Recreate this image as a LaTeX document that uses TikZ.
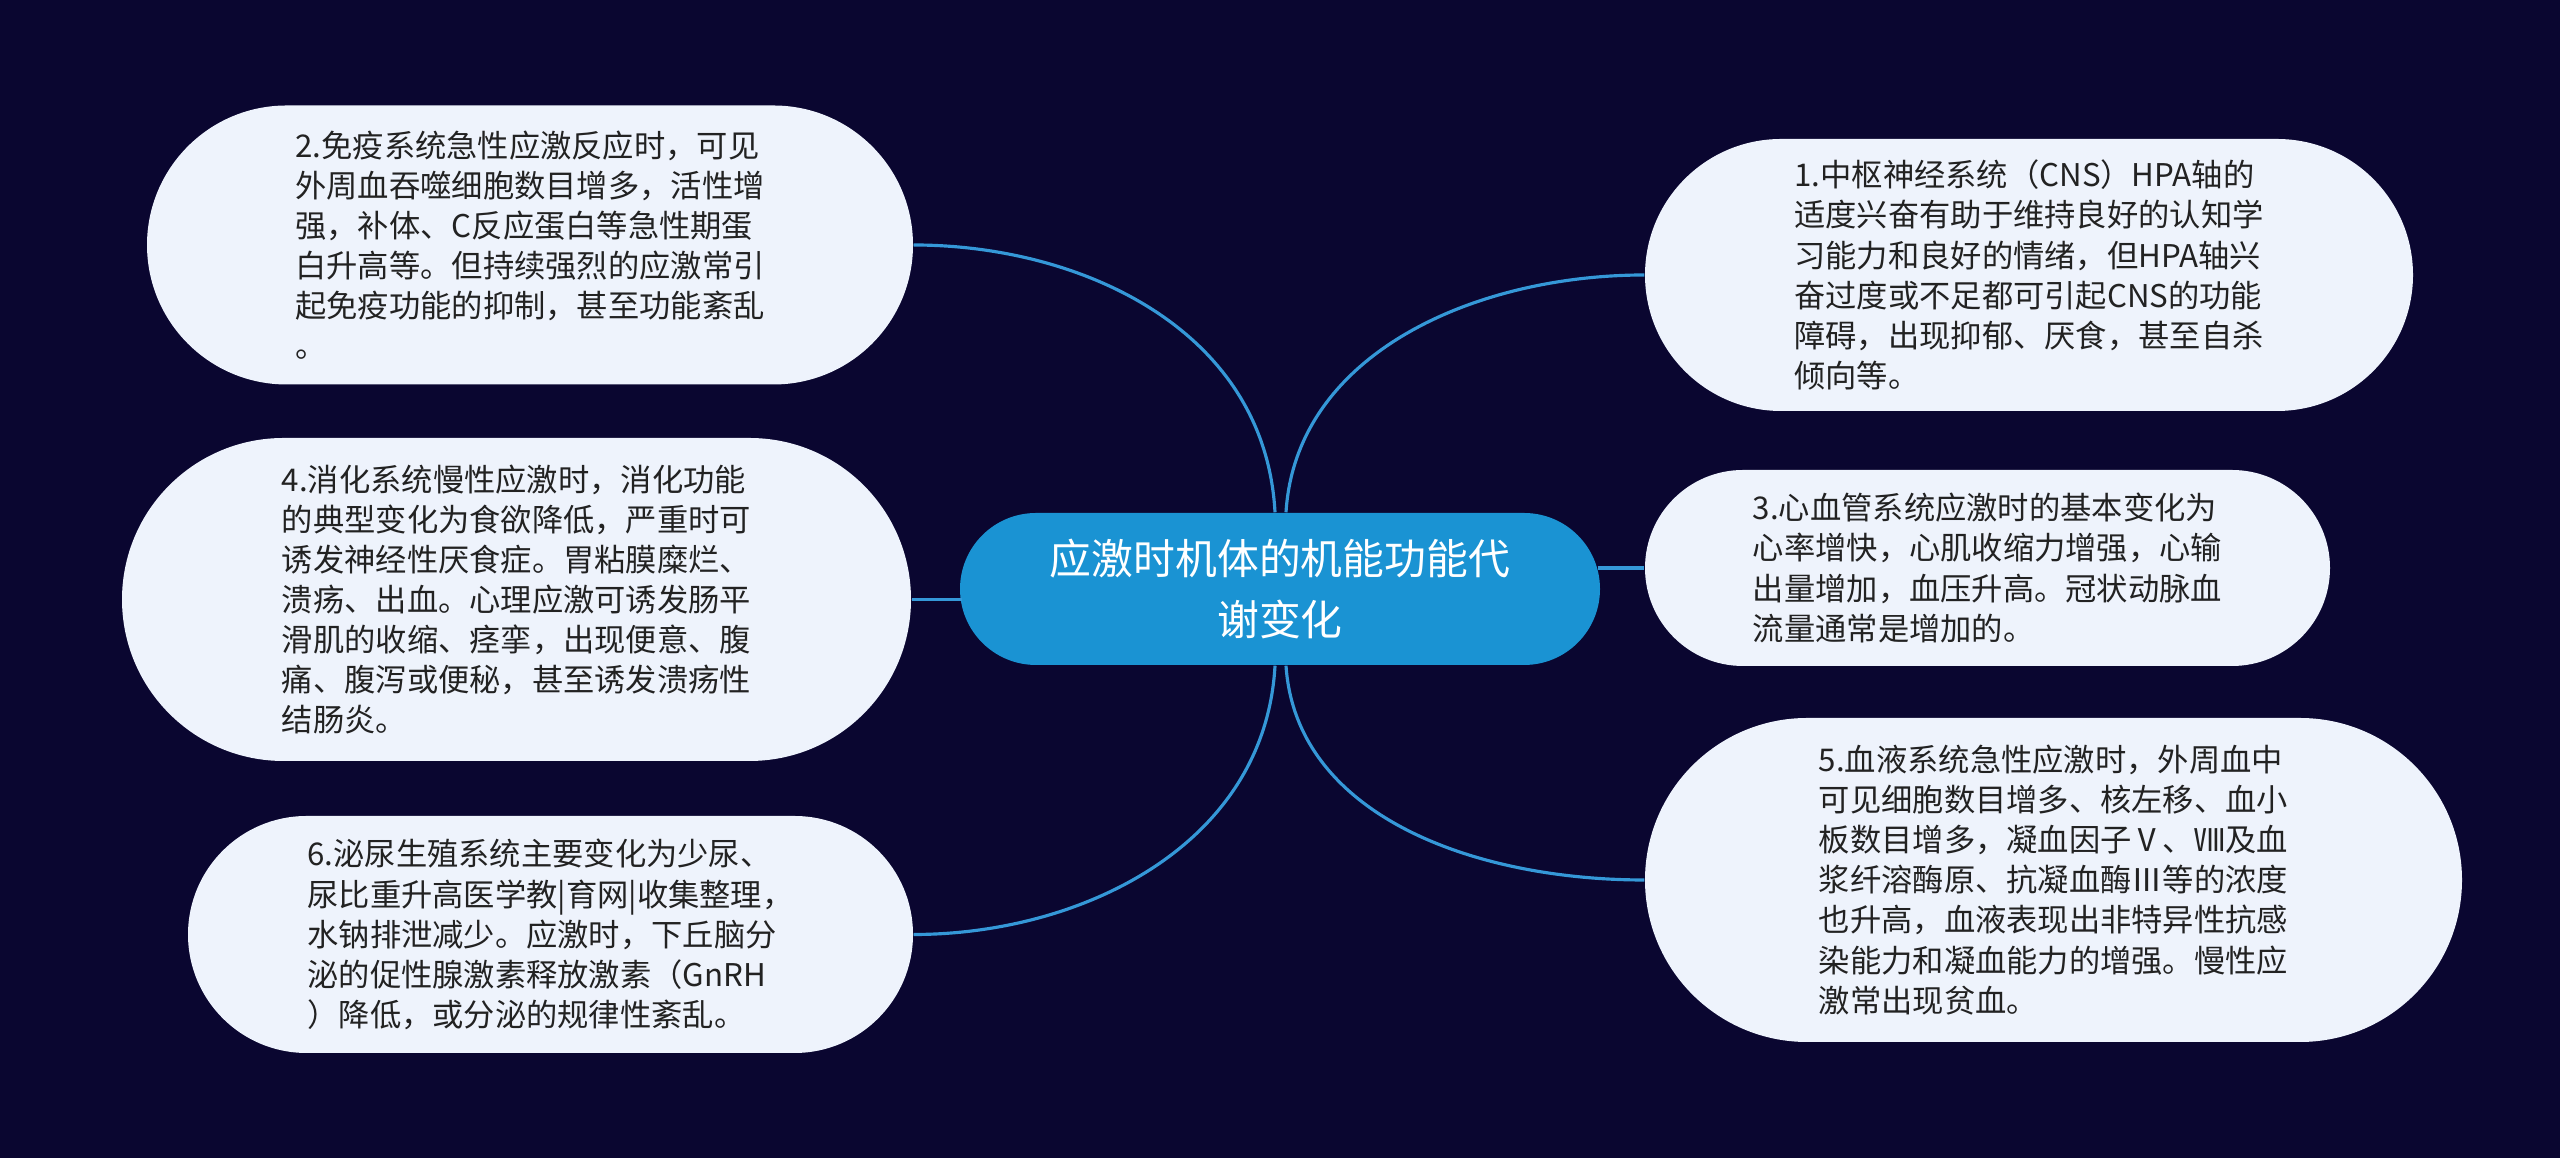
\documentclass[tikz,border=0pt]{standalone}
\usepackage{fontspec}
\setmainfont{Noto Sans CJK SC}
\usetikzlibrary{shapes.misc}

\definecolor{bgnavy}{HTML}{0A0630}
\definecolor{linkblue}{HTML}{3598D8}
\definecolor{topicblue}{HTML}{1A93D3}
\definecolor{leaffill}{HTML}{EEF3FC}
\definecolor{leaftext}{HTML}{222222}

\tikzset{
  topic/.style={rounded rectangle, fill=topicblue, text=white, align=center,
    font=\fontsize{11.9pt}{17.6pt}\selectfont, inner xsep=0pt},
  leaf/.style={rounded rectangle, fill=leaffill, text=leaftext, align=left,
    font=\fontsize{8.9pt}{11.4pt}\selectfont, inner xsep=0pt},
  link/.style={linkblue, line width=0.9pt},
}

\begin{document}
\begin{tikzpicture}
                %% background
                \fill[bgnavy] (0,0) rectangle (25.6,11.58);

                %% center
                \node[topic, minimum width=6.4cm, minimum height=1.52cm] (root) at (12.80,5.69)
                  {应激时机体的机能功能代\\谢变化};

                %% left side
                \node[leaf, minimum width=7.66cm, minimum height=2.79cm] (immune) at (5.30,9.13)
                  {2.免疫系统急性应激反应时，可见\\外周血吞噬细胞数目增多，活性增\\强，补体、C反应蛋白等急性期蛋\\白升高等。但持续强烈的应激常引\\起免疫功能的抑制，甚至功能紊乱\\。};
                \node[leaf, minimum width=7.89cm, minimum height=3.23cm] (gut) at (5.165,5.585)
                  {4.消化系统慢性应激时，消化功能\\的典型变化为食欲降低，严重时可\\诱发神经性厌食症。胃粘膜糜烂、\\溃疡、出血。心理应激可诱发肠平\\滑肌的收缩、痉挛，出现便意、腹\\痛、腹泻或便秘，甚至诱发溃疡性\\结肠炎。};
                \node[leaf, minimum width=7.25cm, minimum height=2.37cm] (urine) at (5.505,2.235)
                  {6.泌尿生殖系统主要变化为少尿、\\尿比重升高医学教|育网|收集整理，\\水钠排泄减少。应激时，下丘脑分\\泌的促性腺激素释放激素（GnRH\\）降低，或分泌的规律性紊乱。};

                %% right side
                \node[leaf, minimum width=7.68cm, minimum height=2.72cm] (cns) at (20.29,8.83)
                  {1.中枢神经系统（CNS）HPA轴的\\适度兴奋有助于维持良好的认知学\\习能力和良好的情绪，但HPA轴兴\\奋过度或不足都可引起CNS的功能\\障碍，出现抑郁、厌食，甚至自杀\\倾向等。};
                \node[leaf, minimum width=6.85cm, minimum height=1.96cm] (heart) at (19.875,5.90)
                  {3.心血管系统应激时的基本变化为\\心率增快，心肌收缩力增强，心输\\出量增加，血压升高。冠状动脉血\\流量通常是增加的。};
                \node[leaf, minimum width=8.17cm, minimum height=3.24cm] (blood) at (20.535,2.78)
                  {5.血液系统急性应激时，外周血中\\可见细胞数目增多、核左移、血小\\板数目增多，凝血因子Ⅴ、Ⅷ及血\\浆纤溶酶原、抗凝血酶Ⅲ等的浓度\\也升高，血液表现出非特异性抗感\\染能力和凝血能力的增强。慢性应\\激常出现贫血。};

                %% links
                \draw[link] ([xshift=-0.5mm]root.north) .. controls +(-0.1,1.83) and +(1.67,0) .. (immune.east);
                \draw[link] ([xshift=0.6mm]root.north) .. controls +(0.1,1.6) and +(-1.67,0) .. (cns.west);
                \draw[link] ([xshift=0.3mm]gut.east -| root.west) -- (gut.east);
                \draw[link] ([xshift=-0.3mm]heart.west -| root.east) -- (heart.west);
                \draw[link] ([xshift=-0.5mm]root.south) .. controls +(-0.1,-1.8) and +(1.67,0) .. (urine.east);
                \draw[link] ([xshift=0.6mm]root.south) .. controls +(0.1,-1.5) and +(-1.7,0) .. (blood.west);

\end{tikzpicture}
\end{document}
